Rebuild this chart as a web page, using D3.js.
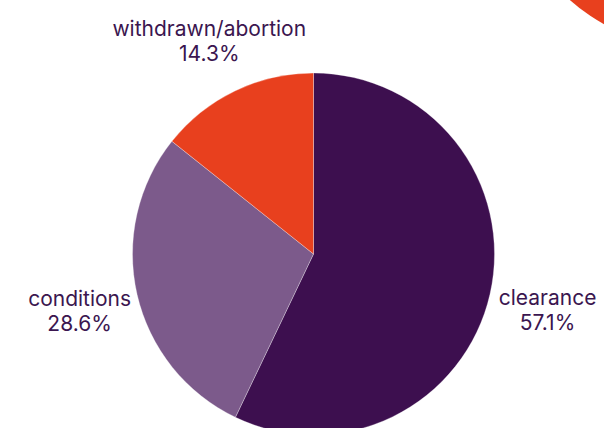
<!DOCTYPE html>
<html lang="en">
<head>
    <meta charset="utf-8" />
    <title>Pie chart</title>
    <script src="https://cdnjs.cloudflare.com/ajax/libs/d3/7.8.5/d3.min.js"></script>
    <style>
        html, body { margin: 0; padding: 0; background: #fff; }
        svg text { font-family: Inter, "Noto Sans", sans-serif; fill: #3b1650; }
    </style>
</head>
<body>
<div id="chart"></div>
<script>
    // chart data
    var categories = ["clearance", "conditions", "withdrawn/abortion"];
    var values = [57.1, 28.6, 14.3];
    var colours = ["#3d0f4f", "#7c5a8b", "#e8401e"];

    var w = 604, h = 428;
    var cx = 313.5, cy = 254, r = 181;

    var svg = d3.select("#chart").append("svg")
        .attr("width", w)
        .attr("height", h);

    // decorative circle in the top right corner
    svg.append("circle")
        .attr("cx", 693)
        .attr("cy", -138)
        .attr("r", 185)
        .attr("fill", "#e8401e");

    var pie = d3.pie().sort(null).value(function (d) { return d; });
    var arcs = pie(values);

    var arc = d3.arc().innerRadius(0).outerRadius(r);
    var labelArc = d3.arc().innerRadius(240).outerRadius(240);

    var g = svg.append("g").attr("transform", "translate(" + cx + "," + cy + ")");

    g.selectAll("path")
        .data(arcs)
        .enter().append("path")
        .attr("d", arc)
        .attr("fill", function (d, i) { return colours[i]; })
        .attr("stroke", "#ffffff")
        .attr("stroke-opacity", 0.5)
        .attr("stroke-width", 0.6);

    var labels = g.selectAll("text.lbl")
        .data(arcs)
        .enter().append("text")
        .attr("class", "lbl")
        .attr("text-anchor", "middle")
        .attr("font-size", 21)
        .attr("transform", function (d) {
            var p = labelArc.centroid(d);
            return "translate(" + p[0] + "," + (p[1] - 2) + ")";
        });

    labels.append("tspan")
        .attr("x", 0)
        .attr("y", 0)
        .text(function (d, i) { return categories[i]; });

    labels.append("tspan")
        .attr("x", 0)
        .attr("y", 25)
        .text(function (d, i) { return values[i].toFixed(1) + "%"; });
</script>
</body>
</html>
